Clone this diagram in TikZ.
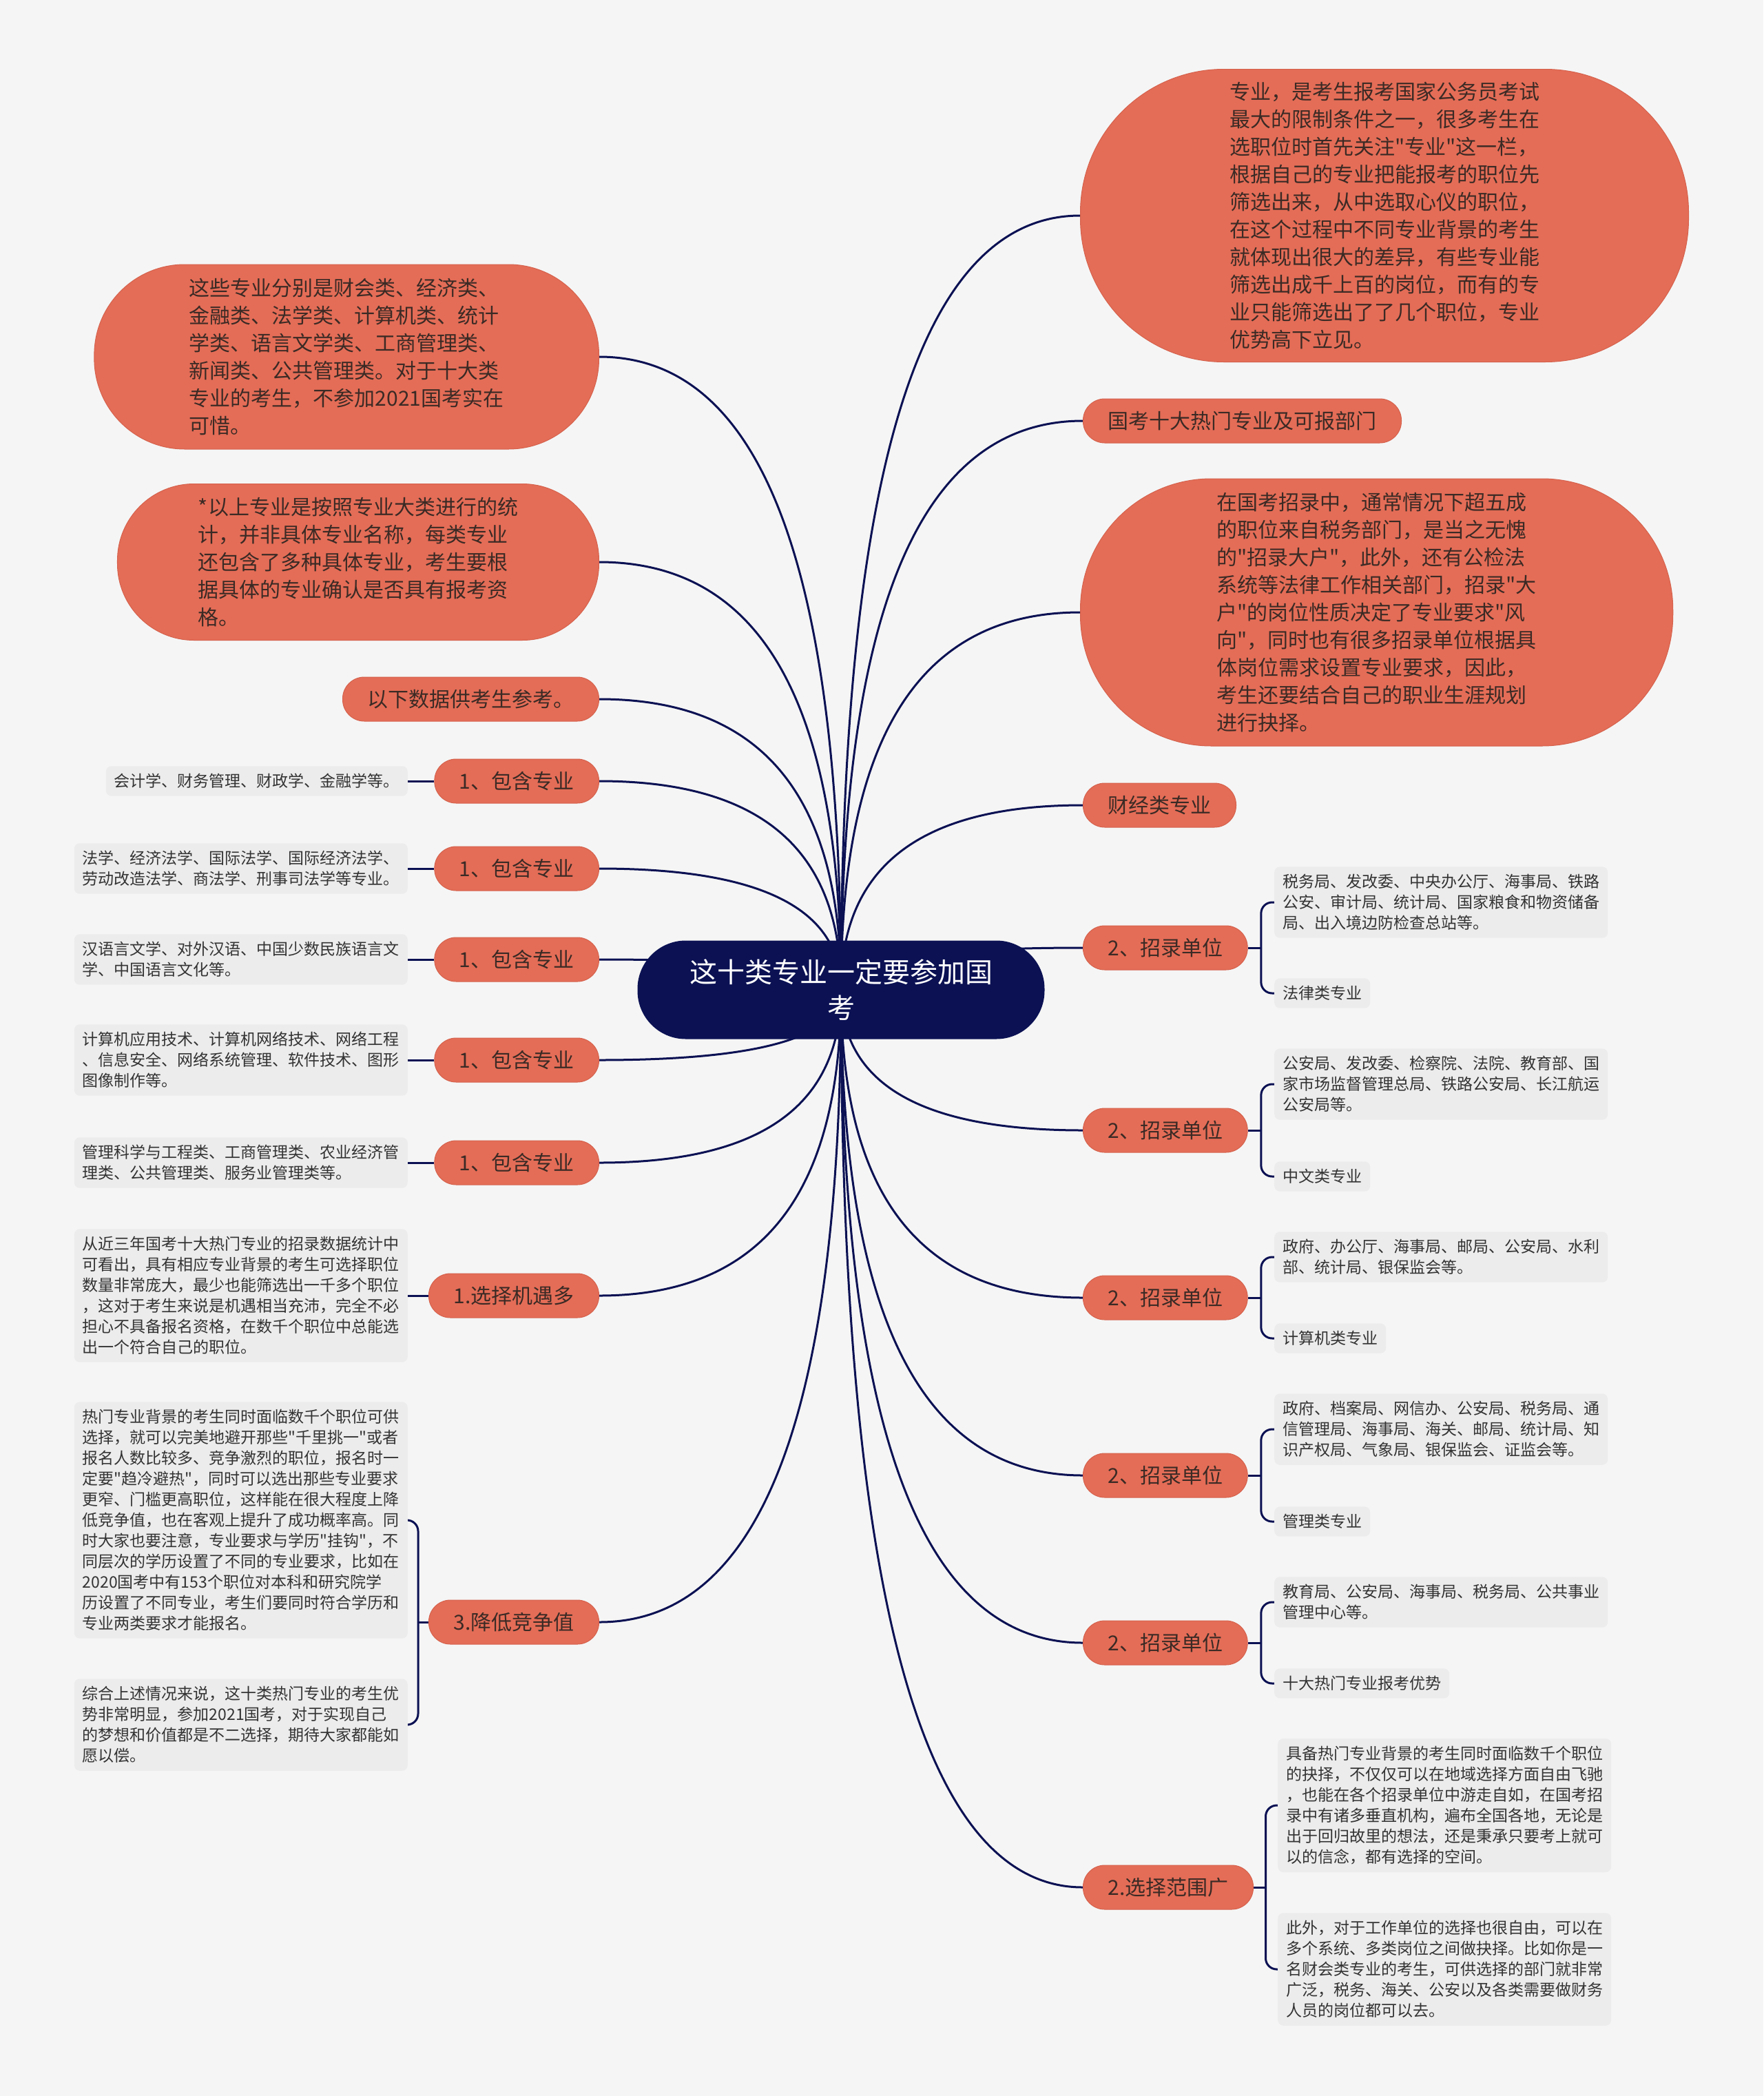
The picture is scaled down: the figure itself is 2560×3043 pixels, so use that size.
\documentclass[tikz,border=0pt]{standalone}
\usepackage{fontspec}
\newfontfamily\cjk{Noto Sans CJK SC}
\usetikzlibrary{calc}
\pgfdeclarelayer{background}
\pgfsetlayers{background,main}

\begin{document}
\begin{tikzpicture}[x=1pt, y=-1pt]
    % Define colours
    \definecolor{pageColour}{HTML}{F5F5F5}
    \definecolor{topicColour}{HTML}{E46D57}
    \definecolor{topicBorder}{HTML}{D5614C}
    \definecolor{topicText}{HTML}{3B2A25}
    \definecolor{rootColour}{HTML}{0B1153}
    \definecolor{leafColour}{HTML}{ECECEC}
    \definecolor{leafText}{HTML}{333333}

    % Define styles (argument = height of the pill)
    \tikzset{
        pill/.style={rectangle, minimum height=#1*1pt, rounded corners=#1*0.49pt,
            inner xsep=#1*0.5pt+4pt, inner ysep=2pt},
        root/.style={pill=143, fill=rootColour, text=white, align=center,
            font=\cjk\fontsize{40}{52}\selectfont},
        topic/.style={pill=#1, fill=topicColour, draw=topicBorder, line width=1pt,
            text=topicText, align=left, font=\cjk\fontsize{30}{40}\selectfont},
        topic/.default=64,
        leaf/.style={rectangle, rounded corners=8pt, fill=leafColour, text=leafText,
            align=left, inner xsep=12pt, inner ysep=11pt, font=\cjk\fontsize{23}{30}\selectfont},
        link/.style={draw=rootColour, line width=3pt},
        brace/.style={link, rounded corners=16pt},
        branch/.style={to path={.. controls ($(\tikztostart)!0.67!(\tikztostart |- \tikztotarget)$)
            and ($(\tikztotarget)!0.67!(\tikztostart |- \tikztotarget)$) .. (\tikztotarget)}}
    }

    % Page
    \begin{pgfonlayer}{background}
        \fill[pageColour] (0,0) rectangle (2560,3043);
    \end{pgfonlayer}
    \useasboundingbox (0,0) rectangle (2560,3043);

    % Central topic
    \coordinate (hub) at (1221,1437);
    \node[root] (centre) at (hub) {这十类专业一定要参加国\\考};

    % Right topics
    \node[topic=425, anchor=west] (r1) at (1568,313) {专业，是考生报考国家公务员考试\\最大的限制条件之一，很多考生在\\选职位时首先关注"专业"这一栏，\\根据自己的专业把能报考的职位先\\筛选出来，从中选取心仪的职位，\\在这个过程中不同专业背景的考生\\就体现出很大的差异，有些专业能\\筛选出成千上百的岗位，而有的专\\业只能筛选出了了几个职位，专业\\优势高下立见。};
    \node[topic, anchor=west] (r2) at (1572,611) {国考十大热门专业及可报部门};
    \node[topic=388, anchor=west] (r3) at (1568,889) {在国考招录中，通常情况下超五成\\的职位来自税务部门，是当之无愧\\的"招录大户"，此外，还有公检法\\系统等法律工作相关部门，招录"大\\户"的岗位性质决定了专业要求"风\\向"，同时也有很多招录单位根据具\\体岗位需求设置专业要求，因此，\\考生还要结合自己的职业生涯规划\\进行抉择。};
    \node[topic, anchor=west] (r4) at (1572,1169) {财经类专业};
    \foreach \n/\y in {1/1376, 2/1641, 3/1884, 4/2142, 5/2385}
        \node[topic, anchor=west] (u\n) at (1572,\y) {2、招录单位};
    \node[topic, anchor=west] (wide) at (1572,2740) {2.选择范围广};

    % Left topics
    \node[topic=268, anchor=east] (l1) at (870,518) {这些专业分别是财会类、经济类、\\金融类、法学类、计算机类、统计\\学类、语言文学类、工商管理类、\\新闻类、公共管理类。对于十大类\\专业的考生，不参加2021国考实在\\可惜。};
    \node[topic=227, anchor=east] (l2) at (870,816) {*以上专业是按照专业大类进行的统\\计，并非具体专业名称，每类专业\\还包含了多种具体专业，考生要根\\据具体的专业确认是否具有报考资\\格。};
    \node[topic, anchor=east] (l3) at (870,1015) {以下数据供考生参考。};
    \foreach \n/\y in {1/1134, 2/1261, 3/1393, 4/1539, 5/1688}
        \node[topic, anchor=east] (k\n) at (870,\y) {1、包含专业};
    \node[topic, anchor=east] (chance) at (870,1881) {1.选择机遇多};
    \node[topic, anchor=east] (compete) at (870,2355) {3.降低竞争值};

    % Right details
    \node[leaf, anchor=west] (a1) at (1850,1310) {税务局、发改委、中央办公厅、海事局、铁路\\公安、审计局、统计局、国家粮食和物资储备\\局、出入境边防检查总站等。};
    \node[leaf, anchor=west] (b1) at (1850,1442) {法律类专业};
    \node[leaf, anchor=west] (a2) at (1850,1574) {公安局、发改委、检察院、法院、教育部、国\\家市场监督管理总局、铁路公安局、长江航运\\公安局等。};
    \node[leaf, anchor=west] (b2) at (1850,1708) {中文类专业};
    \node[leaf, anchor=west] (a3) at (1850,1825) {政府、办公厅、海事局、邮局、公安局、水利\\部、统计局、银保监会等。};
    \node[leaf, anchor=west] (b3) at (1850,1943) {计算机类专业};
    \node[leaf, anchor=west] (a4) at (1850,2075) {政府、档案局、网信办、公安局、税务局、通\\信管理局、海事局、海关、邮局、统计局、知\\识产权局、气象局、银保监会、证监会等。};
    \node[leaf, anchor=west] (b4) at (1850,2209) {管理类专业};
    \node[leaf, anchor=west] (a5) at (1850,2326) {教育局、公安局、海事局、税务局、公共事业\\管理中心等。};
    \node[leaf, anchor=west] (b5) at (1850,2444) {十大热门专业报考优势};
    \node[leaf, anchor=west] (w1) at (1855,2621) {具备热门专业背景的考生同时面临数千个职位\\的抉择，不仅仅可以在地域选择方面自由飞驰\\，也能在各个招录单位中游走自如，在国考招\\录中有诸多垂直机构，遍布全国各地，无论是\\出于回归故里的想法，还是秉承只要考上就可\\以的信念，都有选择的空间。};
    \node[leaf, anchor=west] (w2) at (1855,2859) {此外，对于工作单位的选择也很自由，可以在\\多个系统、多类岗位之间做抉择。比如你是一\\名财会类专业的考生，可供选择的部门就非常\\广泛，税务、海关、公安以及各类需要做财务\\人员的岗位都可以去。};

    % Left details
    \node[leaf, anchor=east] (m1) at (592,1134) {会计学、财务管理、财政学、金融学等。};
    \node[leaf, anchor=east] (m2) at (592,1261) {法学、经济法学、国际法学、国际经济法学、\\劳动改造法学、商法学、刑事司法学等专业。};
    \node[leaf, anchor=east] (m3) at (592,1393) {汉语言文学、对外汉语、中国少数民族语言文\\学、中国语言文化等。};
    \node[leaf, anchor=east] (m4) at (592,1539) {计算机应用技术、计算机网络技术、网络工程\\、信息安全、网络系统管理、软件技术、图形\\图像制作等。};
    \node[leaf, anchor=east] (m5) at (592,1688) {管理科学与工程类、工商管理类、农业经济管\\理类、公共管理类、服务业管理类等。};
    \node[leaf, anchor=east] (m6) at (592,1881) {从近三年国考十大热门专业的招录数据统计中\\可看出，具有相应专业背景的考生可选择职位\\数量非常庞大，最少也能筛选出一千多个职位\\，这对于考生来说是机遇相当充沛，完全不必\\担心不具备报名资格，在数千个职位中总能选\\出一个符合自己的职位。};
    \node[leaf, anchor=east] (v1) at (592,2207) {热门专业背景的考生同时面临数千个职位可供\\选择，就可以完美地避开那些"千里挑一"或者\\报名人数比较多、竞争激烈的职位，报名时一\\定要"趋冷避热"，同时可以选出那些专业要求\\更窄、门槛更高职位，这样能在很大程度上降\\低竞争值，也在客观上提升了成功概率高。同\\时大家也要注意，专业要求与学历"挂钩"，不\\同层次的学历设置了不同的专业要求，比如在\\2020国考中有153个职位对本科和研究院学\\历设置了不同专业，考生们要同时符合学历和\\专业两类要求才能报名。};
    \node[leaf, anchor=east] (v2) at (592,2504) {综合上述情况来说，这十类热门专业的考生优\\势非常明显，参加2021国考，对于实现自己\\的梦想和价值都是不二选择，期待大家都能如\\愿以偿。};

    % Draw connectors
    \begin{pgfonlayer}{background}
        \foreach \n in {r1,r2,r3,r4,u1,u2,u3,u4,u5,wide}
            \draw[link] (hub) to[branch] (\n.west);
        \foreach \n in {l1,l2,l3,k1,k2,k3,k4,k5,chance,compete}
            \draw[link] (hub) to[branch] (\n.east);

        \foreach \n in {1,...,5}
            \draw[link] (m\n.east) -- (k\n.west);
        \draw[link] (m6.east) -- (chance.west);

        \foreach \n in {1,...,5} {
            \coordinate (j\n) at ($(u\n.east)!0.5!(a\n.west |- u\n.east)$);
            \draw[link] (u\n.east) -- (j\n);
            \draw[brace] (j\n) |- (a\n.west);
            \draw[brace] (j\n) |- (b\n.west);
        }
        \coordinate (jw) at ($(wide.east)!0.5!(w1.west |- wide.east)$);
        \draw[link] (wide.east) -- (jw);
        \draw[brace] (jw) |- (w1.west);
        \draw[brace] (jw) |- (w2.west);

        \coordinate (jc) at ($(compete.west)!0.5!(v1.east |- compete.west)$);
        \draw[link] (compete.west) -- (jc);
        \draw[brace] (jc) |- (v1.east);
        \draw[brace] (jc) |- (v2.east);
    \end{pgfonlayer}

\end{tikzpicture}
\end{document}
